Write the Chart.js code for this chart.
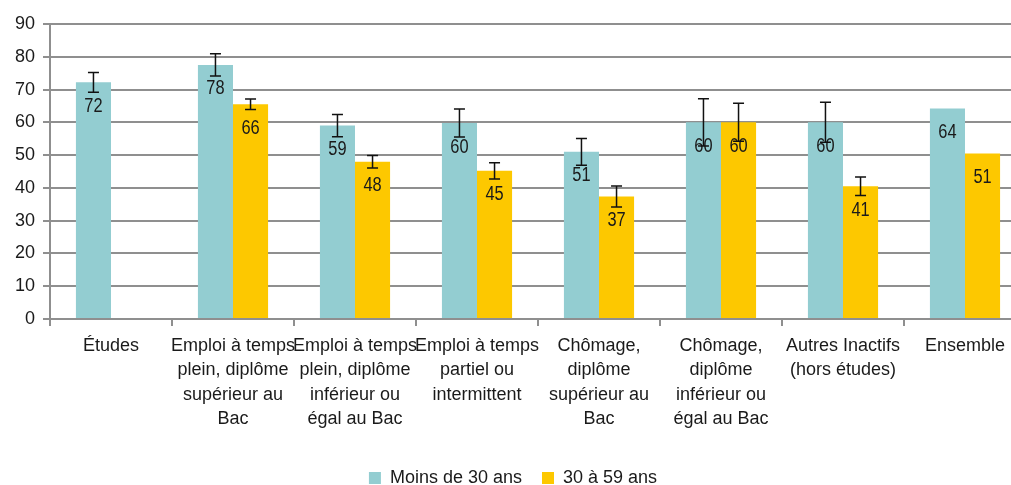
<!DOCTYPE html>
<html>
<head>
<meta charset="utf-8">
<script src="https://cdn.jsdelivr.net/npm/chart.js@4/dist/chart.umd.min.js"></script>
<style>
html, body { margin: 0; padding: 0; overflow: hidden; background: #fff; }
.chart-box { width: 1026px; height: 485px; }
</style>
</head>
<body>
<div class="chart-box"><canvas id="chart"></canvas></div>
<script>
const categories = [
    ['Études'],
    ['Emploi à temps', 'plein, diplôme', 'supérieur au', 'Bac'],
    ['Emploi à temps', 'plein, diplôme', 'inférieur ou', 'égal au Bac'],
    ['Emploi à temps', 'partiel ou', 'intermittent'],
    ['Chômage,', 'diplôme', 'supérieur au', 'Bac'],
    ['Chômage,', 'diplôme', 'inférieur ou', 'égal au Bac'],
    ['Autres Inactifs', '(hors études)'],
    ['Ensemble']
];
const moins30 = [72.2, 77.5, 59, 59.8, 51, 60, 60, 64.2];
const de30a59 = [null, 65.5, 48, 45.2, 37.4, 60, 40.5, 50.5];
// half-width of the confidence intervals
const moins30Err = [3, 3.4, 3.4, 4.3, 4.1, 7.2, 6.1, null];
const de30a59Err = [null, 1.6, 1.9, 2.5, 3.2, 5.8, 2.8, null];
const yTicks = [0, 10, 20, 30, 40, 50, 60, 70, 80, 90];

const gridGray = '#8f8f8f';
const textColor = '#1a1a1a';
const baseFont = "'Liberation Sans', Arial, sans-serif";

const errors = [moins30Err, de30a59Err];

const barDecorations = {
    id: 'barDecorations',
    afterDatasetsDraw(chart) {
        const ctx = chart.ctx;
        const yScale = chart.scales.y;
        chart.data.datasets.forEach((ds, di) => {
            const meta = chart.getDatasetMeta(di);
            meta.data.forEach((bar, i) => {
                const v = ds.data[i];
                if (v === null) return;
                // value label, squeezed a bit to look like a narrow face
                ctx.save();
                ctx.fillStyle = textColor;
                ctx.font = "20px 'Liberation Sans', Arial, sans-serif";
                ctx.textAlign = 'center';
                ctx.textBaseline = 'middle';
                ctx.translate(bar.x, bar.y + 24);
                ctx.scale(0.82, 1);
                ctx.fillText(Math.round(v), 0, 0);
                ctx.restore();

                const e = errors[di][i];
                if (e === null) return;
                const top = yScale.getPixelForValue(v + e);
                const bottom = yScale.getPixelForValue(v - e);
                ctx.save();
                ctx.strokeStyle = '#111';
                ctx.lineWidth = 1.5;
                ctx.beginPath();
                ctx.moveTo(bar.x, top);
                ctx.lineTo(bar.x, bottom);
                ctx.moveTo(bar.x - 5.5, top);
                ctx.lineTo(bar.x + 5.5, top);
                ctx.moveTo(bar.x - 5.5, bottom);
                ctx.lineTo(bar.x + 5.5, bottom);
                ctx.stroke();
                ctx.restore();
            });
        });
    }
};

new Chart(document.getElementById('chart'), {
    type: 'bar',
    data: {
        labels: categories,
        datasets: [
            { label: 'Moins de 30 ans', data: moins30, backgroundColor: '#93cdd1',
              categoryPercentage: 0.575, barPercentage: 1 },
            { label: '30 à 59 ans', data: de30a59, backgroundColor: '#fdc800',
              categoryPercentage: 0.575, barPercentage: 1 }
        ]
    },
    options: {
        responsive: true,
        maintainAspectRatio: false,
        animation: false,
        layout: { padding: { top: 24, left: 0, right: 0, bottom: -12 } },
        plugins: {
            tooltip: { enabled: false },
            legend: {
                position: 'bottom',
                labels: {
                    boxWidth: 12, boxHeight: 12, padding: 20,
                    color: textColor,
                    font: { family: baseFont, size: 18 }
                }
            }
        },
        scales: {
            x: {
                afterFit(scale) { scale.height = 130; },
                grid: { drawOnChartArea: false, tickLength: 7, color: gridGray, lineWidth: 2, offset: true },
                border: { color: gridGray, width: 2 },
                ticks: {
                    color: textColor, maxRotation: 0, autoSkip: false, padding: 8,
                    font: { family: baseFont, size: 18, lineHeight: 1.35 }
                }
            },
            y: {
                min: 0, max: 90,
                afterFit(scale) { scale.width = 50; },
                afterBuildTicks(scale) { scale.ticks = yTicks.map(v => ({ value: v })); },
                grid: { tickLength: 7, color: gridGray, lineWidth: 2 },
                border: { color: gridGray, width: 2 },
                ticks: {
                    color: textColor, padding: 8,
                    font: { family: baseFont, size: 18 }
                }
            }
        }
    },
    plugins: [barDecorations]
});
</script>
</body>
</html>
